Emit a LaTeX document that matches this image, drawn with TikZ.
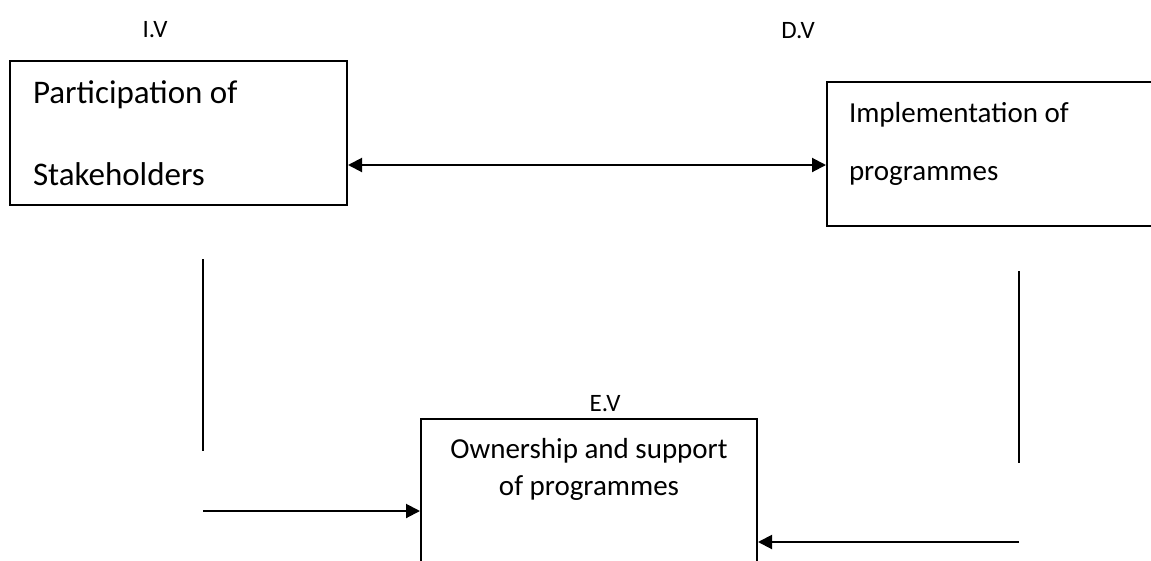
\documentclass[tikz,border=0pt]{standalone}
\usepackage{fontspec}
\setmainfont{Carlito}
\usepackage{tikz}
\usetikzlibrary{calc, positioning, arrows.meta}

\begin{document}
\begin{tikzpicture}[x=1pt,y=-1pt,line width=2pt,
                    >={Triangle[length=14pt,width=14pt]},
                    box node/.style={rectangle,draw,minimum width=337pt,minimum height=144pt,inner sep=0pt},
                    text node/.style={inner sep=0pt,font=\fontsize{29}{58}\selectfont},
                    label node/.style={inner sep=0pt,font=\fontsize{25}{30}\selectfont}]

  \clip (0,0) rectangle (1151,560);

  % the three boxes
  \node[box node] (pbox) at (178.5,133) {};
  \node[box node, minimum width=340pt] (ibox) at (997,154) {};
  \node[box node, minimum width=336pt, minimum height=160pt] (obox) at (589,499) {};

  % base is the baseline of the last line
  \node[text node, font=\fontsize{33}{82}\selectfont, align=left, anchor=base west] (ptext) at (32,185) {Participation of\\Stakeholders};
  \node[text node, align=left, anchor=base west] (itext) at (848,180) {Implementation of\\programmes};
  \node[text node, font=\fontsize{29}{37}\selectfont, align=center, anchor=base] (otext) at (589,495) {Ownership and support\\of programmes};

  \node[label node, anchor=base] (iv) at (155,37) {I.V};
  \node[label node, anchor=base] (dv) at (798,38) {D.V};
  \node[label node, anchor=base] (ev) at (605,411) {E.V};

  % loose lines
  \coordinate (lt) at (203,259);
  \coordinate (lb) at (203,451);
  \coordinate (la) at (203,511);
  \coordinate (rt) at (1019,271);
  \coordinate (rb) at (1019,463);
  \coordinate (ra) at (1019,542);

  \draw[<->] ([yshift=-32pt]pbox.east) -- ([yshift=-32pt]pbox.east -| ibox.west);
  \draw (lt) -- (lb);
  \draw[->] (la) -- (la -| obox.west);
  \draw (rt) -- (rb);
  \draw[->] (ra) -- (ra -| obox.east);

\end{tikzpicture}
\end{document}
